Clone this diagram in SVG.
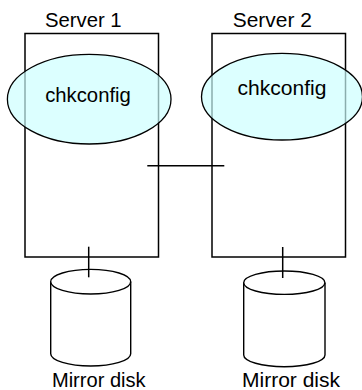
<svg xmlns="http://www.w3.org/2000/svg" width="362" height="390" viewBox="0 0 362 390">
<style>
.box{fill:none;stroke:#000;stroke-width:1.5}
.oval{fill:#ccffff;fill-opacity:0.68;stroke:#000;stroke-width:1.3}
.disk{fill:#fff;stroke:#000;stroke-width:1.4}
.ln{stroke:#000;stroke-width:1.5;fill:none}
text{font-family:"Liberation Sans",Arial,sans-serif;font-size:19.5px;fill:#000;text-anchor:middle}
</style>
<rect width="362" height="390" fill="#fff"/>
<g id="server1">
<rect class="box" x="25" y="33.5" width="133.5" height="223.5"/>
<text x="83.3" y="26.7" textLength="76.7" lengthAdjust="spacingAndGlyphs">Server 1</text>
</g>
<g id="server2">
<rect class="box" x="212" y="33.5" width="133.5" height="223.5"/>
<text x="272.3" y="26.7" textLength="79" lengthAdjust="spacingAndGlyphs">Server 2</text>
</g>
<g id="chkconfig1">
<ellipse class="oval" cx="89.2" cy="99.2" rx="81.8" ry="44.8"/>
<text x="88" y="102.3" textLength="85.7" lengthAdjust="spacingAndGlyphs">chkconfig</text>
</g>
<g id="chkconfig2">
<ellipse class="oval" cx="282" cy="96.7" rx="80.5" ry="43.3"/>
<text x="282" y="94.8" textLength="89" lengthAdjust="spacingAndGlyphs">chkconfig</text>
</g>
<g id="disk1">
<path class="disk" d="M50.7 281.7 V353.7 A40 12.3 0 0 0 130.7 353.7 V281.7"/>
<ellipse class="disk" cx="90.7" cy="281.7" rx="40" ry="12.3"/>
<text x="98.8" y="386.7" textLength="93.7" lengthAdjust="spacingAndGlyphs">Mirror disk</text>
</g>
<g id="disk2">
<path class="disk" d="M243.7 282.7 V355 A40.6 11.7 0 0 0 325 355 V282.7"/>
<ellipse class="disk" cx="284.3" cy="282.7" rx="40.6" ry="11.7"/>
<text x="291" y="386.7" textLength="98" lengthAdjust="spacingAndGlyphs">Mirror disk</text>
</g>
<g id="connectors">
<line class="ln" x1="147.3" y1="165.7" x2="224.3" y2="165.7"/>
<line class="ln" x1="88.7" y1="246.7" x2="88.7" y2="277.3"/>
<line class="ln" x1="282.7" y1="247" x2="282.7" y2="278"/>
</g>
</svg>
